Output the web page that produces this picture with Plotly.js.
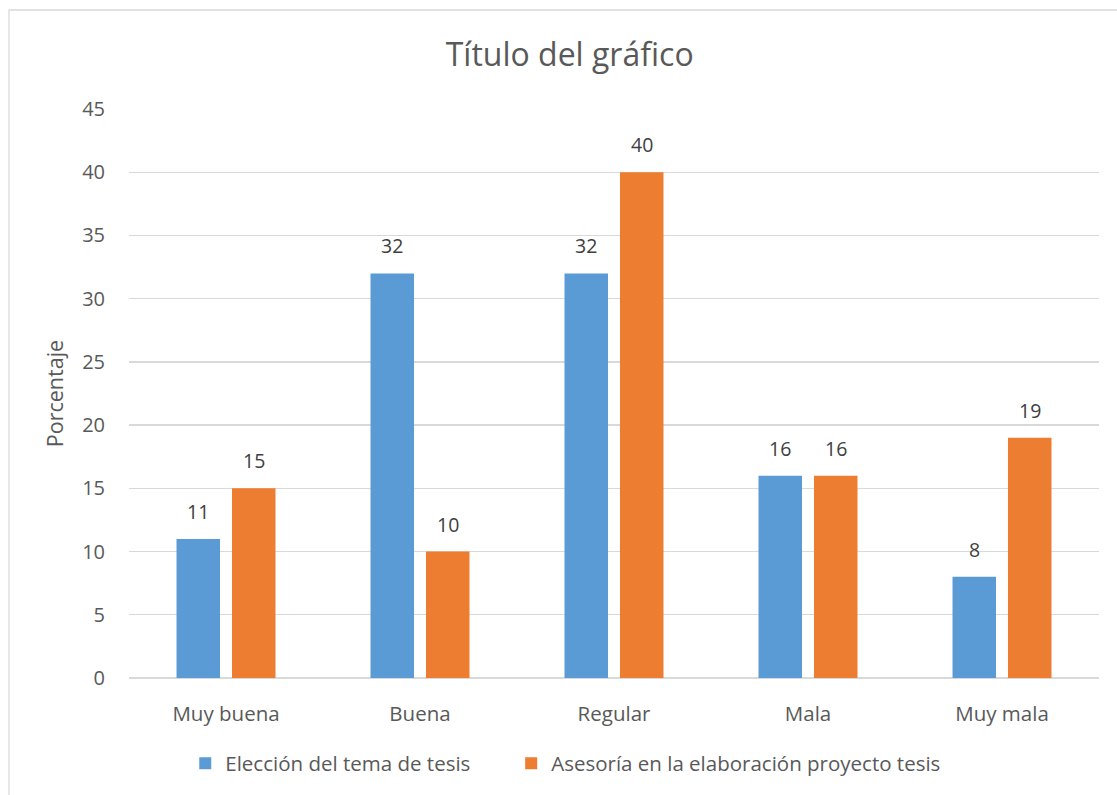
<!DOCTYPE html>
<html>
<head>
<meta charset="utf-8">
<script src="https://cdn.plot.ly/plotly-3.0.1.min.js"></script>
<style>html,body{margin:0;padding:0;background:#fff;}#chart{width:1117px;height:795px;}</style>
</head>
<body>
<div id="chart"></div>
<script>
const categories = ["Muy buena", "Buena", "Regular", "Mala", "Muy mala"];
const seriesNames = ["Elección del tema de tesis", "Asesoría en la elaboración proyecto tesis"];
const eleccion = [11, 32, 32, 16, 8];
const asesoria = [15, 10, 40, 16, 19];
const yTicks = [0, 5, 10, 15, 20, 25, 30, 35, 40, 45];

const FONT = "'Open Sans', Lato, 'Liberation Sans', sans-serif";
const colors = ["#5B9BD5", "#ED7D31"];
const series = [eleccion, asesoria];
const legendIds = ["legend", "legend2"];

const traces = series.map((vals, i) => ({
  type: "bar",
  name: seriesNames[i],
  x: categories,
  y: vals,
  marker: {color: colors[i]},
  legend: legendIds[i],
  showlegend: true,
  hoverinfo: "x+y"
}));

const shifts = [-27.7, 27.7];
const annotations = [];
series.forEach((vals, i) => {
  vals.forEach((v, j) => {
    annotations.push({
      x: categories[j], y: v, xref: "x", yref: "y",
      text: String(v), showarrow: false,
      xshift: shifts[i], yshift: 12, yanchor: "bottom",
      font: {family: FONT, size: 19.5, color: "#404040"}
    });
  });
});

const legendBase = {
  orientation: "h", xanchor: "left", y: -0.15, yanchor: "middle",
  font: {family: FONT, size: 20.5, color: "#595959"},
  itemwidth: 30, bgcolor: "rgba(0,0,0,0)"
};

const layout = {
  width: 1117, height: 795,
  margin: {l: 129, r: 18, t: 109, b: 117},
  showlegend: true,
  paper_bgcolor: "#ffffff", plot_bgcolor: "#ffffff",
  title: {text: "Título del gráfico", x: 0.51, xanchor: "center", y: 0.931, yanchor: "middle",
          font: {family: FONT, size: 32, color: "#595959"}},
  barmode: "group",
  bargap: 0.428,
  bargroupgap: 0.216,
  xaxis: {
    type: "category",
    tickfont: {family: FONT, size: 20.5, color: "#595959"},
    showgrid: false, showline: false, ticks: "outside", ticklen: 17, tickcolor: "rgba(0,0,0,0)",
    fixedrange: true
  },
  yaxis: {
    range: [0, 45],
    tickvals: yTicks,
    ticktext: yTicks.map(String),
    tickfont: {family: FONT, size: 20, color: "#595959"},
    gridcolor: "#D9D9D9", gridwidth: 1.3,
    zeroline: true, zerolinecolor: "#D9D9D9", zerolinewidth: 1.3,
    showline: false, ticks: "outside", ticklen: 19, tickcolor: "rgba(0,0,0,0)",
    title: {text: "Porcentaje", standoff: 12, font: {family: FONT, size: 21.5, color: "#595959"}},
    fixedrange: true
  },
  legend: Object.assign({}, legendBase, {x: 0.058}),
  legend2: Object.assign({}, legendBase, {x: 0.394}),
  annotations: annotations,
  shapes: [{
    type: "rect", xref: "paper", yref: "paper",
    x0: -120/970, x1: 1.2, y0: -0.5, y1: 1 + 99/569,
    line: {color: "#D9D9D9", width: 1.3}, fillcolor: "rgba(0,0,0,0)", layer: "below"
  }]
};

Plotly.newPlot("chart", traces, layout, {displayModeBar: false, staticPlot: true});
</script>
</body>
</html>
